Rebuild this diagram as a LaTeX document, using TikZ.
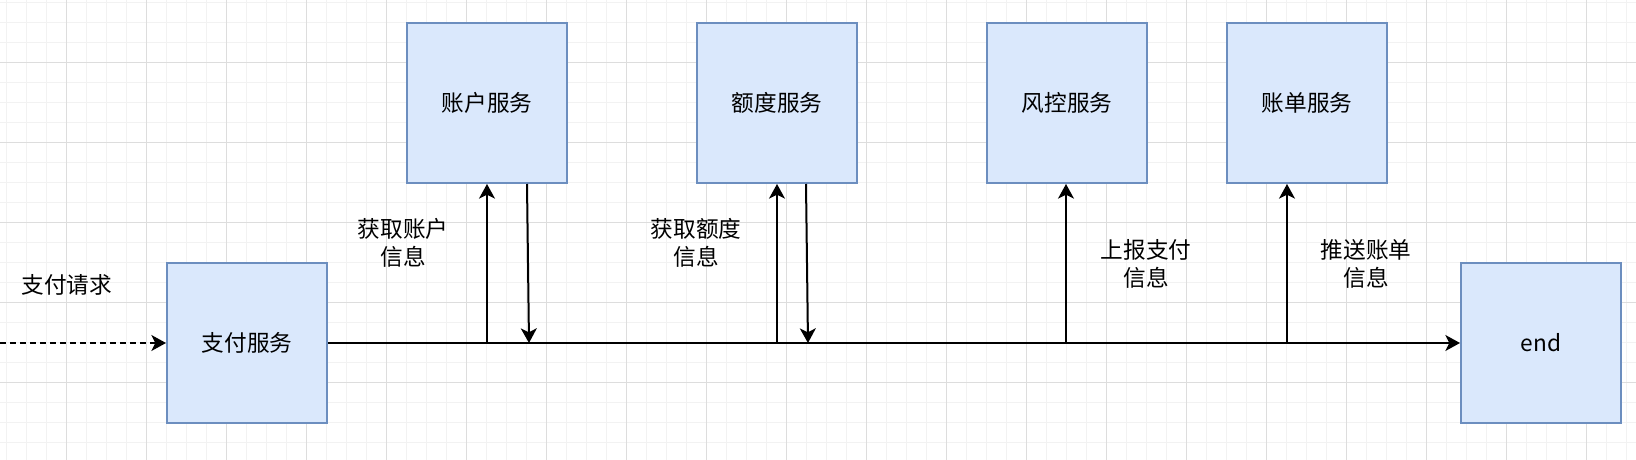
\documentclass[tikz,border=0pt]{standalone}
\usepackage{fontspec}
\setmainfont{Noto Sans CJK SC}
\usetikzlibrary{arrows.meta,positioning,calc}
\definecolor{svcfill}{HTML}{DAE8FC}
\definecolor{svcdraw}{HTML}{6C8EBF}
\definecolor{gridminor}{HTML}{F2F2F2}
\definecolor{gridmajor}{HTML}{DDDDDD}

\begin{document}
\begin{tikzpicture}[x=0.75pt,y=0.75pt,yscale=-1,xscale=1,
  svcbox/.style={draw=svcdraw, fill=svcfill, line width=1.5pt, minimum width=120pt, minimum height=120pt, inner sep=0pt, font=\fontsize{17}{21}\selectfont},
  flow/.style={line width=1.5pt, -{Stealth[length=11pt,width=12pt,inset=3pt]}},
  lbl/.style={align=center, font=\fontsize{17}{20.5}\selectfont}]
\useasboundingbox (0,0) rectangle (1636,460);

%Grid
\foreach \i in {0,...,81} \draw[gridminor, line width=0.75pt] (6.7+20*\i,0) -- (6.7+20*\i,460);
\foreach \i in {0,...,23} \draw[gridminor, line width=0.75pt] (0,2.3+20*\i) -- (1636,2.3+20*\i);
\foreach \i in {0,...,20} \draw[gridmajor, line width=0.75pt] (66.7+80*\i,0) -- (66.7+80*\i,460);
\foreach \i in {0,...,5} \draw[gridmajor, line width=0.75pt] (0,62.3+80*\i) -- (1636,62.3+80*\i);

%Shape: Rectangle
\node[svcbox] (pay) at (247,343) {支付服务};
\node[svcbox] (acct) at (487,103) {账户服务};
\node[svcbox] (quota) at (777,103) {额度服务};
\node[svcbox] (risk) at (1067,103) {风控服务};
\node[svcbox] (bill) at (1307,103) {账单服务};
\node[svcbox] (finish) at (1541,343) {end};

%Straight Lines
\coordinate (src) at (0,343);
\draw[flow, dash pattern=on 4.5pt off 3pt] (src) -- (pay);
\draw[flow] (pay) -- (finish);

\coordinate (t1) at (487,343);
\coordinate (d1) at (529,343);
\draw[flow] (t1) -- (acct.south);
\draw[flow] ($(acct.south)+(40,0)$) -- (d1);

\coordinate (t2) at (777,343);
\coordinate (d2) at (808,343);
\draw[flow] (t2) -- (quota.south);
\draw[flow] ($(quota.south)+(29,0)$) -- (d2);

\coordinate (t3) at (1066,343);
\draw[flow] (t3) -- (risk.south -| t3);
\coordinate (t4) at (1287,343);
\draw[flow] (t4) -- (bill.south -| t4);

% Text Node
\node[lbl] (req) at (67,285) {支付请求};
% Text Node
\node[lbl] (getacct) at (403,243) {获取账户\\信息};
% Text Node
\node[lbl] (getquota) at (696,243) {获取额度\\信息};
% Text Node
\node[lbl] (report) at (1146,264) {上报支付\\信息};
% Text Node
\node[lbl] (push) at (1366,264) {推送账单\\信息};

\end{tikzpicture}
\end{document}
